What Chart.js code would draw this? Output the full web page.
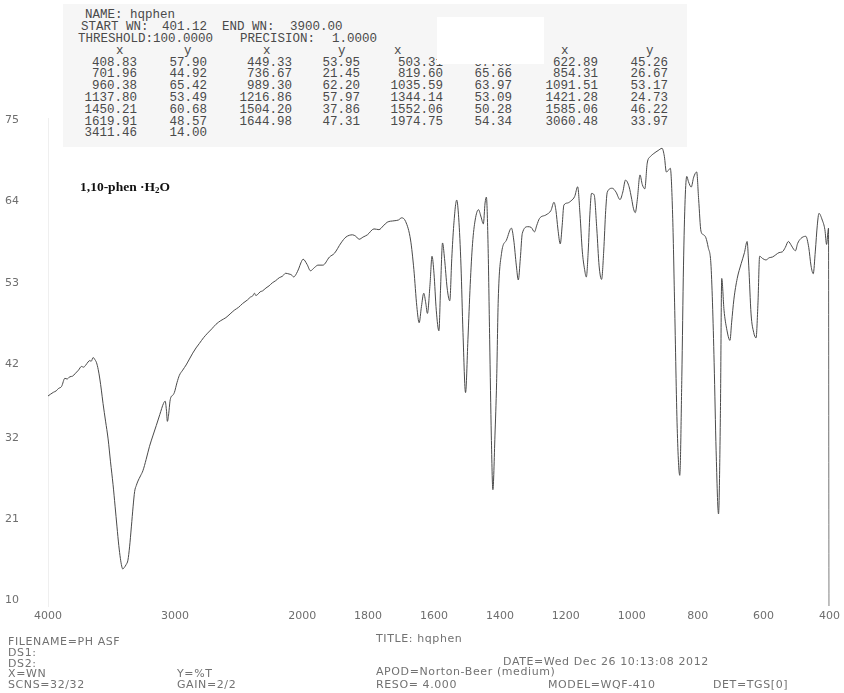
<!DOCTYPE html>
<html>
<head>
<meta charset="utf-8">
<title>hqphen IR spectrum</title>
<script src="https://cdn.jsdelivr.net/npm/chart.js@4/dist/chart.umd.min.js"></script>
<style>
  html, body { margin: 0; padding: 0; background: #fff; }
  #wrap { position: relative; width: 844px; height: 693px; overflow: hidden; background: #fff; }
  #peakBox { position: absolute; left: 63px; top: 4px; width: 624px; height: 143px; background: #f6f6f6; }
  #patch { position: absolute; left: 437px; top: 17px; width: 107px; height: 47px; background: #fff; }
  canvas { position: absolute; left: 0; top: 0; }
  .t { position: absolute; white-space: pre; line-height: 14px; height: 14px; }
  .mono { font-family: "Liberation Mono", monospace; font-size: 12.5px; color: #4a4a4a; }
  .plot { font-family: "DejaVu Sans", sans-serif; font-size: 11px; letter-spacing: 0.6px; color: #727272; }
  #compound { position: absolute; left: 80px; top: 179px; font-family: "Liberation Serif", serif; font-weight: bold; font-size: 13.5px; color: #111; white-space: pre; }
  #compound sub { font-size: 9px; vertical-align: -2px; }
</style>
</head>
<body>
<div id="wrap">
  <div id="peakBox"></div>
  <div id="peakText"></div>
  <div id="patch"></div>
  <canvas id="c" width="844" height="693"></canvas>
  <div id="compound">1,10-phen ·H<sub>2</sub>O</div>
  <div id="footer"></div>
</div>
<script>
// ---- spectrum, 4000-2000 cm-1 (compressed part of the axis) ----
const highWn = [4000, 3958, 3935, 3919, 3893, 3867, 3850, 3828, 3805, 3788, 3760, 3736, 3720, 3702, 3685,
  3671, 3660, 3645, 3630, 3618, 3605, 3592, 3580, 3567, 3547, 3527, 3508, 3488, 3472, 3457, 3443, 3430,
  3420, 3411.46, 3400, 3385, 3371, 3358, 3344, 3330, 3318, 3305, 3292, 3272, 3253, 3228, 3201, 3175,
  3148, 3120, 3091, 3078, 3068, 3060.48, 3050, 3040, 3031, 3018, 3005, 2985, 2966, 2940, 2913, 2887,
  2861, 2835, 2809, 2775, 2744, 2710, 2678, 2640, 2600, 2567, 2534, 2500, 2469, 2430, 2405, 2391, 2375,
  2365, 2352, 2330, 2313, 2285, 2260, 2235, 2208, 2180, 2155, 2130, 2103, 2085, 2066, 2050, 2025, 2010];
const highT = [37.4, 37.9, 38.1, 38.4, 38.7, 39.8, 39.7, 40.0, 40.1, 40.4, 40.9, 41.4, 41.3, 41.6, 42.0,
  42.2, 42.1, 42.6, 42.3, 41.9, 41.0, 39.7, 38.2, 36.4, 34.0, 31.6, 28.5, 25.4, 22.5, 19.7, 17.2, 15.4,
  14.4, 14.00, 14.2, 14.6, 15.2, 17.0, 19.7, 22.5, 24.5, 25.3, 25.9, 26.6, 27.3, 28.8, 30.6, 32.0,
  33.4, 34.9, 36.4, 36.7, 35.5, 33.97, 35.0, 36.7, 37.3, 37.5, 37.9, 39.2, 40.2, 40.9, 41.6, 42.4,
  43.2, 43.9, 44.5, 45.3, 45.9, 46.5, 47.1, 47.6, 48.0, 48.5, 49.0, 49.4, 49.9, 50.4, 50.8, 50.9, 51.3,
  51.0, 51.1, 51.5, 51.6, 52.0, 52.3, 52.7, 53.0, 53.4, 53.6, 54.0, 53.9, 53.8, 53.5, 53.8, 54.7, 55.4];

// ---- spectrum, 2000-400 cm-1 ----
const lowWn = [1997, 1985, 1974.75, 1962, 1952, 1937, 1917, 1902, 1882, 1867, 1847, 1837, 1827, 1815, 1802,
  1782, 1767, 1754, 1742, 1721, 1708, 1698, 1686, 1671, 1661, 1652, 1644.98, 1638, 1631, 1625, 1619.91,
  1612, 1606, 1600, 1593, 1585.06, 1580, 1574, 1568, 1560, 1552.06, 1546, 1540, 1531, 1525, 1518, 1512,
  1504.20, 1497, 1490, 1483, 1475, 1465, 1457, 1450.21, 1445, 1441, 1436, 1431, 1426, 1421.28, 1415,
  1410, 1405, 1395, 1380, 1365, 1358, 1350, 1344.14, 1338, 1332, 1315, 1305, 1295, 1288, 1280, 1260,
  1245, 1236, 1230, 1224, 1216.86, 1211, 1206, 1195, 1184, 1173, 1164, 1157, 1150, 1143, 1137.80, 1132,
  1127, 1122, 1114, 1106, 1099, 1091.51, 1085, 1079, 1074, 1059, 1048, 1035.59, 1027, 1019, 1008, 1000,
  995, 989.30, 983, 975, 968, 960.38, 953, 943, 933, 920, 908, 901, 895, 889, 883, 876, 870, 862,
  854.31, 848, 843, 838, 833, 828, 819.60, 812, 803, 797, 790, 782, 775, 768, 760, 755, 750, 744,
  736.67, 731, 727, 720, 712, 701.96, 697, 690, 680, 668, 658, 650, 645, 638, 630, 622.89, 617, 612,
  603, 593, 583, 573, 563, 553, 543, 534, 525, 515, 508, 503.31, 497, 487, 472, 463, 456, 449.33, 443,
  437, 432, 422, 414, 408.83, 405, 403, 401.12];
const lowT = [55.9, 55.2, 54.34, 54.8, 55.1, 55.1, 56.2, 56.7, 58.1, 58.9, 59.2, 59.0, 58.6, 58.9, 59.2,
  60.0, 59.9, 60.4, 60.9, 61.1, 61.2, 61.5, 61.0, 58.5, 54.5, 49.5, 47.31, 49.5, 51.3, 50.0, 48.57,
  52.5, 56.3, 54.0, 49.0, 46.22, 52.0, 58.1, 56.0, 52.0, 50.28, 56.0, 60.5, 63.9, 61.5, 55.0, 46.0,
  37.86, 45.0, 52.5, 58.0, 61.2, 62.6, 61.6, 60.68, 63.5, 64.3, 58.0, 45.0, 32.0, 24.73, 32.0,
  39.2, 50.4, 56.7, 58.5, 60.1, 58.5, 55.0, 53.09, 56.0, 59.4, 60.3, 60.2, 59.6, 60.5, 61.4, 61.9,
  62.5, 63.6, 62.5, 60.0, 57.97, 60.5, 63.2, 63.5, 63.8, 64.4, 65.7, 62.0, 57.0, 54.5, 53.49, 57.0,
  62.0, 64.8, 64.6, 60.0, 55.0, 53.17, 57.0, 62.5, 65.0, 65.5, 65.0, 63.97, 65.0, 66.6, 65.7, 64.0,
  62.8, 62.20, 64.0, 67.3, 66.0, 65.42, 68.9, 69.8, 70.2, 70.6, 70.9, 69.8, 67.7, 67.9, 68.2, 62.0, 50.0, 33.0,
  26.67, 40.0, 55.0, 64.0, 67.1, 66.4, 65.66, 67.0, 67.7, 64.0, 59.7, 59.2, 58.8, 57.5, 55.4, 50.0, 41.9, 30.0,
  21.45, 35.0, 53.3, 49.0, 46.5, 44.92, 47.3, 50.5, 53.3, 55.3, 56.8, 58.3, 55.0, 48.5, 46.0, 45.26, 50.0, 56.3,
  56.0, 55.8, 56.1, 56.2, 56.5, 56.8, 56.9, 57.5, 58.3, 57.7, 57.2, 57.05, 58.0, 58.7, 59.0, 57.5, 55.0, 53.95, 57.0,
  60.5, 62.1, 61.2, 59.9, 57.90, 59.5, 60.1, 9.0];

// ---- peak-pick table (ascending wavenumber) ----
const peakWn = [408.83, 449.33, 503.31, 622.89, 701.96, 736.67, 819.60, 854.31, 960.38, 989.30,
  1035.59, 1091.51, 1137.80, 1216.86, 1344.14, 1421.28, 1450.21, 1504.20, 1552.06, 1585.06,
  1619.91, 1644.98, 1974.75, 3060.48, 3411.46];
const peakT = [57.90, 53.95, 57.05, 45.26, 44.92, 21.45, 65.66, 26.67, 65.42, 62.20,
  63.97, 53.17, 53.49, 57.97, 53.09, 24.73, 60.68, 37.86, 50.28, 46.22,
  48.57, 47.31, 54.34, 33.97, 14.00];

// ---- axis ticks ----
const xTickValues = [4000, 3000, 2000, 1800, 1600, 1400, 1200, 1000, 800, 600, 400];
const yTickValues = [10, 21, 32, 42, 53, 64, 75];

// The wavenumber axis changes scale at 2000 cm-1: the region above is compressed.
const BREAK = 2000;
const HIGH_RATIO = 0.3855;
const toAxis = wn => wn <= BREAK ? wn : BREAK + (wn - BREAK) * HIGH_RATIO;
const fromAxis = u => u <= BREAK ? u : BREAK + (u - BREAK) / HIGH_RATIO;

const wn = highWn.concat(lowWn);
const tr = highT.concat(lowT);
const points = wn.map((w, i) => ({ x: toAxis(w), y: tr[i] }));

const tickFont = { family: 'DejaVu Sans', size: 11 };

new Chart(document.getElementById('c'), {
  type: 'line',
  data: {
    datasets: [{
      data: points,
      borderColor: '#4a4a4a',
      borderWidth: 1,
      pointRadius: 0,
      fill: false,
      cubicInterpolationMode: 'monotone'
    }]
  },
  options: {
    responsive: false,
    animation: false,
    devicePixelRatio: 1,
    layout: { padding: { left: 5, right: 12, top: 118, bottom: 62 } },
    plugins: { legend: { display: false }, tooltip: { enabled: false } },
    scales: {
      x: {
        type: 'linear',
        reverse: true,
        min: 400,
        max: toAxis(4000),
        grid: { display: false, drawTicks: false },
        border: { display: false },
        afterBuildTicks: s => { s.ticks = xTickValues.map(v => ({ value: toAxis(v) })); },
        afterFit: s => { s.height = 25; },
        ticks: {
          autoSkip: false,
          maxRotation: 0,
          padding: 4,
          color: '#6e6e6e',
          font: tickFont,
          callback: v => String(Math.round(fromAxis(v)))
        }
      },
      y: {
        min: 9,
        max: 75,
        grid: { display: false, drawTicks: false },
        border: { display: true, color: '#efefef', width: 1 },
        afterBuildTicks: s => { s.ticks = yTickValues.map(v => ({ value: v })); },
        afterFit: s => { s.width = 43; },
        ticks: {
          crossAlign: 'far',
          labelOffset: 2,
          color: '#6e6e6e',
          font: tickFont,
          callback: v => String(v)
        }
      }
    }
  }
});

// ---- text blocks ----
function put(parent, text, cls, left, cy, alignRight) {
  const d = document.createElement('div');
  d.className = 't ' + cls;
  d.textContent = text;
  d.style.top = (cy - 7) + 'px';
  if (alignRight) { d.style.right = (844 - left) + 'px'; d.style.textAlign = 'right'; }
  else d.style.left = left + 'px';
  parent.appendChild(d);
  return d;
}

const pt = document.getElementById('peakText');
put(pt, 'NAME: hqphen', 'mono', 85, 15);
put(pt, 'START WN:', 'mono', 81, 27);
put(pt, '401.12', 'mono', 162, 27);
put(pt, 'END WN:', 'mono', 222, 27);
put(pt, '3900.00', 'mono', 290, 27);
put(pt, 'THRESHOLD:100.0000', 'mono', 78, 39);
put(pt, 'PRECISION:', 'mono', 240, 39);
put(pt, '1.0000', 'mono', 332, 39);

const colRight = [137, 207, 292, 360, 443, 512, 598, 668];
const headCenter = [120, 188, 267, 342, 398, 485, 565, 650];
headCenter.forEach((cx, i) => put(pt, i % 2 ? 'y' : 'x', 'mono', cx - 4, 51));
peakWn.forEach((w, i) => {
  const row = Math.floor(i / 4), col = i % 4;
  const cy = 62.5 + row * 11.8;
  put(pt, w.toFixed(2), 'mono', colRight[col * 2], cy, true);
  put(pt, peakT[i].toFixed(2), 'mono', colRight[col * 2 + 1], cy, true);
});

const ft = document.getElementById('footer');
put(ft, 'FILENAME=PH ASF', 'plot', 8, 642);
put(ft, 'DS1:', 'plot', 8, 653);
put(ft, 'DS2:', 'plot', 8, 664);
put(ft, 'X=WN', 'plot', 8, 674);
put(ft, 'SCNS=32/32', 'plot', 8, 685);
put(ft, 'Y=%T', 'plot', 177, 674);
put(ft, 'GAIN=2/2', 'plot', 177, 685);
put(ft, 'TITLE: hqphen', 'plot', 376, 639);
put(ft, 'DATE=Wed Dec 26 10:13:08 2012', 'plot', 503, 662);
put(ft, 'APOD=Norton-Beer (medium)', 'plot', 376, 672);
put(ft, 'RESO= 4.000', 'plot', 376, 685);
put(ft, 'MODEL=WQF-410', 'plot', 548, 685);
put(ft, 'DET=TGS[0]', 'plot', 713, 685);
</script>
</body>
</html>
